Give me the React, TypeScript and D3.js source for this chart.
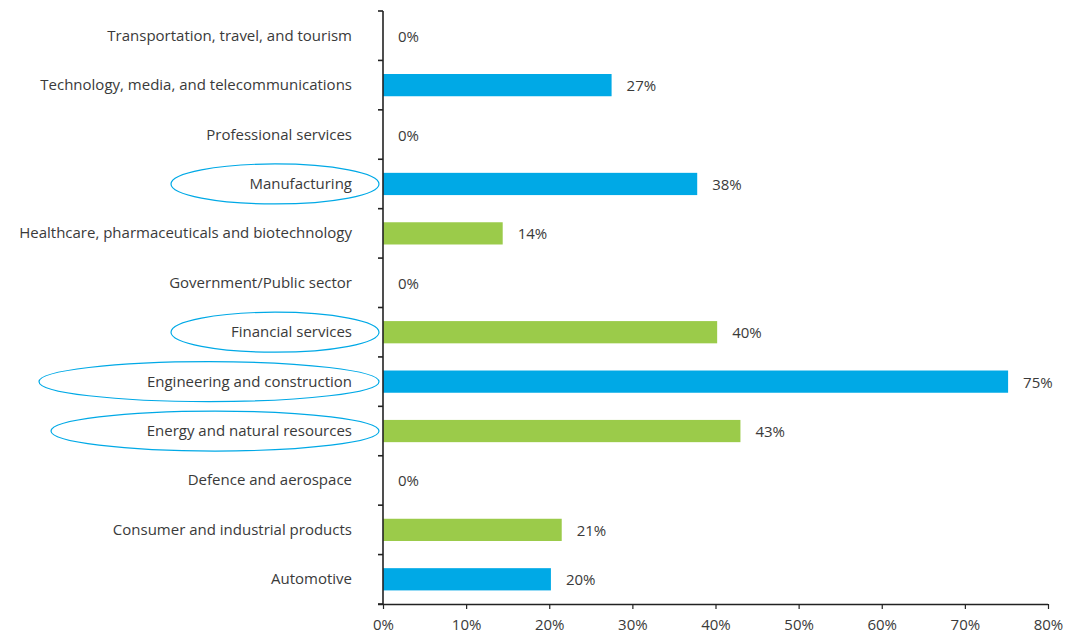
import { useEffect, useRef } from "react";
import * as d3 from "d3";

const categories = [
  "Transportation, travel, and tourism",
  "Technology, media, and telecommunications",
  "Professional services",
  "Manufacturing",
  "Healthcare, pharmaceuticals and biotechnology",
  "Government/Public sector",
  "Financial services",
  "Engineering and construction",
  "Energy and natural resources",
  "Defence and aerospace",
  "Consumer and industrial products",
  "Automotive",
];

const values = [0, 27.5, 0, 37.8, 14.4, 0, 40.2, 75.2, 43.0, 0, 21.5, 20.2];
const valueLabels = ["0%", "27%", "0%", "38%", "14%", "0%", "40%", "75%", "43%", "0%", "21%", "20%"];
const groups = ["b", "b", "b", "b", "g", "b", "g", "b", "g", "b", "g", "b"];
const circled = ["Manufacturing", "Financial services", "Engineering and construction", "Energy and natural resources"];
const xTicks = [0, 10, 20, 30, 40, 50, 60, 70, 80];

const BLUE = "#00a9e6";
const GREEN = "#9bcb4a";
const TEXT = "#3a3a3a";
const FONT = "'Open Sans', 'Noto Sans', sans-serif";

// half-widths of the highlight ellipses (hand drawn in the original)
const ellipseHalfWidth: Record<string, number> = {
  "Manufacturing": 104,
  "Financial services": 104,
  "Engineering and construction": 170,
  "Energy and natural resources": 164,
};

export default function App() {
  const ref = useRef<SVGSVGElement>(null);

  useEffect(() => {
    if (!ref.current) return;
    const svg = d3.select(ref.current);
    svg.selectAll("*").remove();

    const width = 1076;
    const height = 637;
    const margin = { top: 11, right: 28, bottom: 33, left: 383 };

    const x = d3.scaleLinear().domain([0, 80]).range([margin.left, width - margin.right]);
    const y = d3
      .scaleBand()
      .domain(categories)
      .range([margin.top, height - margin.bottom])
      .paddingInner(0.55)
      .paddingOuter(0.275);

    const step = y.step();
    const data = categories.map((c, i) => ({ name: c, value: values[i], label: valueLabels[i], group: groups[i] }));
    const mid = (name: string) => (y(name) ?? 0) + y.bandwidth() / 2;

    // ellipses around highlighted sectors
    svg
      .append("g")
      .selectAll("ellipse")
      .data(data.filter((d) => circled.includes(d.name)))
      .join("ellipse")
      .attr("cx", (d) => x(0) - 4 - ellipseHalfWidth[d.name])
      .attr("cy", (d) => mid(d.name))
      .attr("rx", (d) => ellipseHalfWidth[d.name])
      .attr("ry", 20)
      .attr("fill", "none")
      .attr("stroke", BLUE)
      .attr("stroke-width", 1.2);

    // bars
    svg
      .append("g")
      .selectAll("rect")
      .data(data.filter((d) => d.value > 0))
      .join("rect")
      .attr("x", x(0))
      .attr("y", (d) => y(d.name) ?? 0)
      .attr("width", (d) => x(d.value) - x(0))
      .attr("height", y.bandwidth())
      .attr("fill", (d) => (d.group === "g" ? GREEN : BLUE));

    // value labels
    svg
      .append("g")
      .selectAll("text")
      .data(data)
      .join("text")
      .attr("x", (d) => x(d.value) + 15)
      .attr("y", (d) => mid(d.name))
      .attr("dominant-baseline", "central")
      .attr("font-family", FONT)
      .attr("font-size", "15px")
      .attr("fill", TEXT)
      .text((d) => d.label);

    // category labels
    svg
      .append("g")
      .selectAll("text")
      .data(data)
      .join("text")
      .attr("x", x(0) - 31)
      .attr("y", (d) => mid(d.name) - 1)
      .attr("text-anchor", "end")
      .attr("dominant-baseline", "central")
      .attr("font-family", FONT)
      .attr("font-size", "15px")
      .attr("fill", TEXT)
      .text((d) => d.name);

    // y axis with ticks at band boundaries
    const yTop = margin.top;
    const yBottom = height - margin.bottom;
    const boundaries = d3.range(categories.length + 1).map((i) => yTop + i * step);
    const yAxis = svg.append("g").attr("stroke", "#222").attr("stroke-width", 1.6);
    yAxis.append("line").attr("x1", x(0)).attr("x2", x(0)).attr("y1", yTop).attr("y2", yBottom);
    yAxis
      .selectAll("line.tick")
      .data(boundaries)
      .join("line")
      .attr("class", "tick")
      .attr("x1", x(0) - 5)
      .attr("x2", x(0))
      .attr("y1", (d) => d)
      .attr("y2", (d) => d);

    // x axis
    svg
      .append("g")
      .attr("transform", `translate(0,${yBottom})`)
      .call(
        d3
          .axisBottom(x)
          .tickValues(xTicks)
          .tickSize(5)
          .tickPadding(10)
          .tickFormat((d) => `${d}%`)
      )
      .call((g) => g.select(".domain").attr("stroke", "#222").attr("stroke-width", 1.6).attr("d", `M${x(0) - 5},0.5H${x(80)}`))
      .call((g) => g.selectAll(".tick line").attr("stroke", "#222").attr("stroke-width", 1.2))
      .call((g) =>
        g.selectAll(".tick text").attr("fill", TEXT).attr("font-size", "15px").attr("font-family", FONT)
      );
  }, []);

  return (
    <svg
      ref={ref}
      width={1076}
      height={637}
      style={{ position: "absolute", left: 0, top: 0, background: "#fff" }}
    />
  );
}
